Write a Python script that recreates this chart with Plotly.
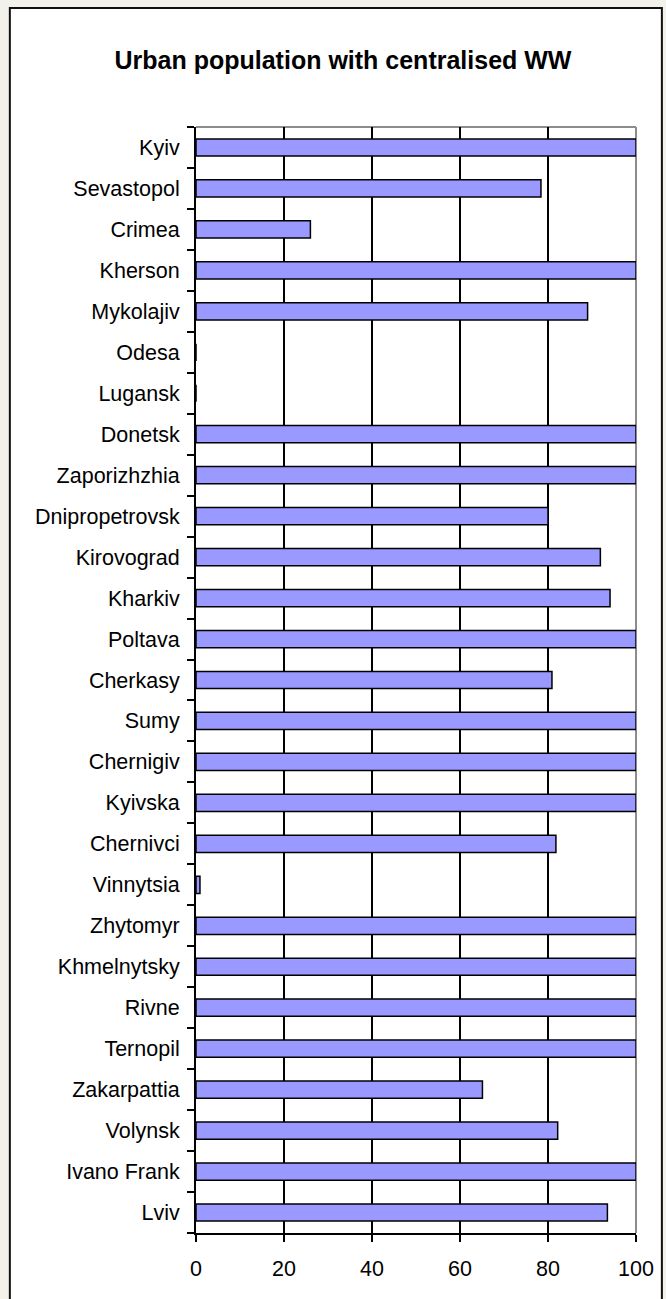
import plotly.graph_objects as go

regions = ["Kyiv", "Sevastopol", "Crimea", "Kherson", "Mykolajiv", "Odesa", "Lugansk",
           "Donetsk", "Zaporizhzhia", "Dnipropetrovsk", "Kirovograd", "Kharkiv", "Poltava",
           "Cherkasy", "Sumy", "Chernigiv", "Kyivska", "Chernivci", "Vinnytsia", "Zhytomyr",
           "Khmelnytsky", "Rivne", "Ternopil", "Zakarpattia", "Volynsk", "Ivano Frank", "Lviv"]
values = [100, 78.4, 26, 100, 89, 0, 0,
          100, 100, 80, 91.9, 94.1, 100,
          80.9, 100, 100, 100, 81.8, 0.9, 100,
          100, 100, 100, 65.1, 82.2, 100, 93.5]
x_ticks = [0, 20, 40, 60, 80, 100]
title_text = "Urban population with centralised WW"

W, H = 666, 1299
ml, mr, mt, mb = 196, 28, 127, 66
pw, ph = W - ml - mr, H - mt - mb

def px_x(p):
    return (p - ml) / pw

def px_y(p):
    return (H - mb - p) / ph

fig = go.Figure(go.Bar(
    x=values, y=regions, orientation="h",
    width=0.42,
    marker=dict(color="#9999ff", line=dict(color="black", width=1.5)),
    hoverinfo="x+y",
))

fig.update_layout(
    width=W, height=H,
    margin=dict(l=ml, r=mr, t=mt, b=mb, pad=0),
    paper_bgcolor="#f2f1ea",
    plot_bgcolor="white",
    showlegend=False,
    font=dict(family="Liberation Sans, Arial, sans-serif", size=21.5, color="black"),
    title=dict(text="<b>" + title_text + "</b>", font=dict(size=25, color="black"),
               x=343 / W, xref="container", xanchor="center",
               y=1 - 60 / H, yref="container", yanchor="middle"),
    shapes=[
        dict(type="rect", xref="paper", yref="paper", layer="below",
             x0=px_x(9), x1=px_x(664), y0=px_y(8), y1=px_y(1310),
             fillcolor="white", line=dict(color="#111111", width=2)),
        dict(type="line", xref="paper", yref="paper", layer="between",
             x0=0, x1=1, y0=1, y1=1, line=dict(color="#8c8c8c", width=2)),
        dict(type="line", xref="paper", yref="paper", layer="between",
             x0=1, x1=1, y0=0, y1=1, line=dict(color="#8c8c8c", width=2)),
    ],
)

fig.update_xaxes(
    range=[0, 100], tickvals=x_ticks, ticktext=[str(v) for v in x_ticks],
    showgrid=True, gridcolor="black", gridwidth=1.5,
    showline=True, linecolor="black", linewidth=2,
    ticks="outside", ticklen=7, tickwidth=1.5, tickcolor="black",
    ticklabelstandoff=8,
    zeroline=False, fixedrange=True,
)
fig.update_yaxes(
    type="category", categoryorder="array", categoryarray=regions[::-1],
    tickson="boundaries", ticks="outside", ticklen=7, tickwidth=1.5, tickcolor="black",
    showgrid=False, showline=True, linecolor="black", linewidth=2,
    ticklabelstandoff=10, fixedrange=True,
)

fig.write_html(
    "out.html",
    config={"displayModeBar": False},
    post_script="document.body.style.margin='0';document.body.style.padding='0';"
                "document.documentElement.style.overflow='hidden';",
)
